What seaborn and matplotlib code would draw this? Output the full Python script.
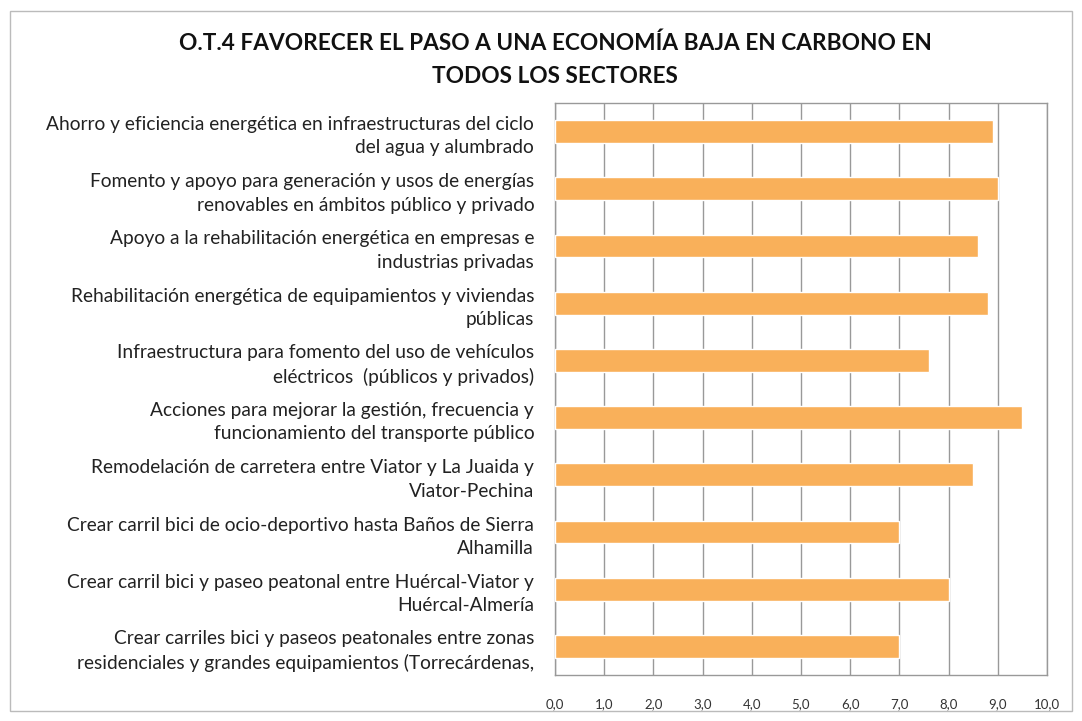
import numpy as np
import pandas as pd
import matplotlib
matplotlib.use('Agg')
import matplotlib.pyplot as plt
import seaborn as sns
from matplotlib.patches import Rectangle

title = 'O.T.4 FAVORECER EL PASO A UNA ECONOMÍA BAJA EN CARBONO EN\nTODOS LOS SECTORES'

actuaciones = [
    'Ahorro y eficiencia energética en infraestructuras del ciclo\ndel agua y alumbrado',
    'Fomento y apoyo para generación y usos de energías\nrenovables en ámbitos público y privado',
    'Apoyo a la rehabilitación energética en empresas e\nindustrias privadas',
    'Rehabilitación energética de equipamientos y viviendas\npúblicas',
    'Infraestructura para fomento del uso de vehículos\neléctricos  (públicos y privados)',
    'Acciones para mejorar la gestión, frecuencia y\nfuncionamiento del transporte público',
    'Remodelación de carretera entre Viator y La Juaida y\nViator-Pechina',
    'Crear carril bici de ocio-deportivo hasta Baños de Sierra\nAlhamilla',
    'Crear carril bici y paseo peatonal entre Huércal-Viator y\nHuércal-Almería',
    'Crear carriles bici y paseos peatonales entre zonas\nresidenciales y grandes equipamientos (Torrecárdenas,',
]
valoracion = [8.9, 9.0, 8.6, 8.8, 7.6, 9.5, 8.5, 7.0, 8.0, 7.0]
xticks = np.arange(0, 11, 1)

df = pd.DataFrame({'actuacion': actuaciones, 'valor': valoracion})

sns.set_style('white')
plt.rcParams['font.family'] = ['Lato', 'DejaVu Sans']

fig = plt.figure(figsize=(10.82, 7.21), dpi=100)
ax = fig.add_axes([555 / 1082, 1 - 675 / 721, (1047 - 555) / 1082, (675 - 103) / 721])

sns.barplot(data=df, x='valor', y='actuacion', orient='h', color='#F9B05A',
            width=0.4, saturation=1, ax=ax, zorder=3)

ax.set_xlim(0, 10)
ax.set_xticks(xticks)
ax.set_xticklabels([f'{t:.1f}'.replace('.', ',') for t in xticks], fontsize=9.5, color='#333333')
ax.tick_params(axis='x', length=0, pad=17)
ax.tick_params(axis='y', length=0, pad=15)
for lbl in ax.get_yticklabels():
    lbl.set_fontsize(13.8)
    lbl.set_color('#222222')
    lbl.set_horizontalalignment('right')
    lbl.set_multialignment('right')
    lbl.set_linespacing(1.45)
ax.set_xlabel('')
ax.set_ylabel('')
ax.xaxis.grid(True, color='#999999', linewidth=1, zorder=0)
ax.set_axisbelow(True)
for s in ax.spines.values():
    s.set_color('#999999')
    s.set_linewidth(1)

# titulo centrado un poco a la derecha, como en el original
fig.text(0.513, 1 - 60 / 721, title, ha='center', va='center', fontsize=16.3,
         fontweight='bold', color='#111111', linespacing=1.7)

fig.patches.append(Rectangle((10 / 1082, 10 / 721), 1062 / 1082, 700 / 721,
                             transform=fig.transFigure, fill=False,
                             edgecolor='#bbbbbb', linewidth=1))

fig.savefig('out.png', dpi=100)
